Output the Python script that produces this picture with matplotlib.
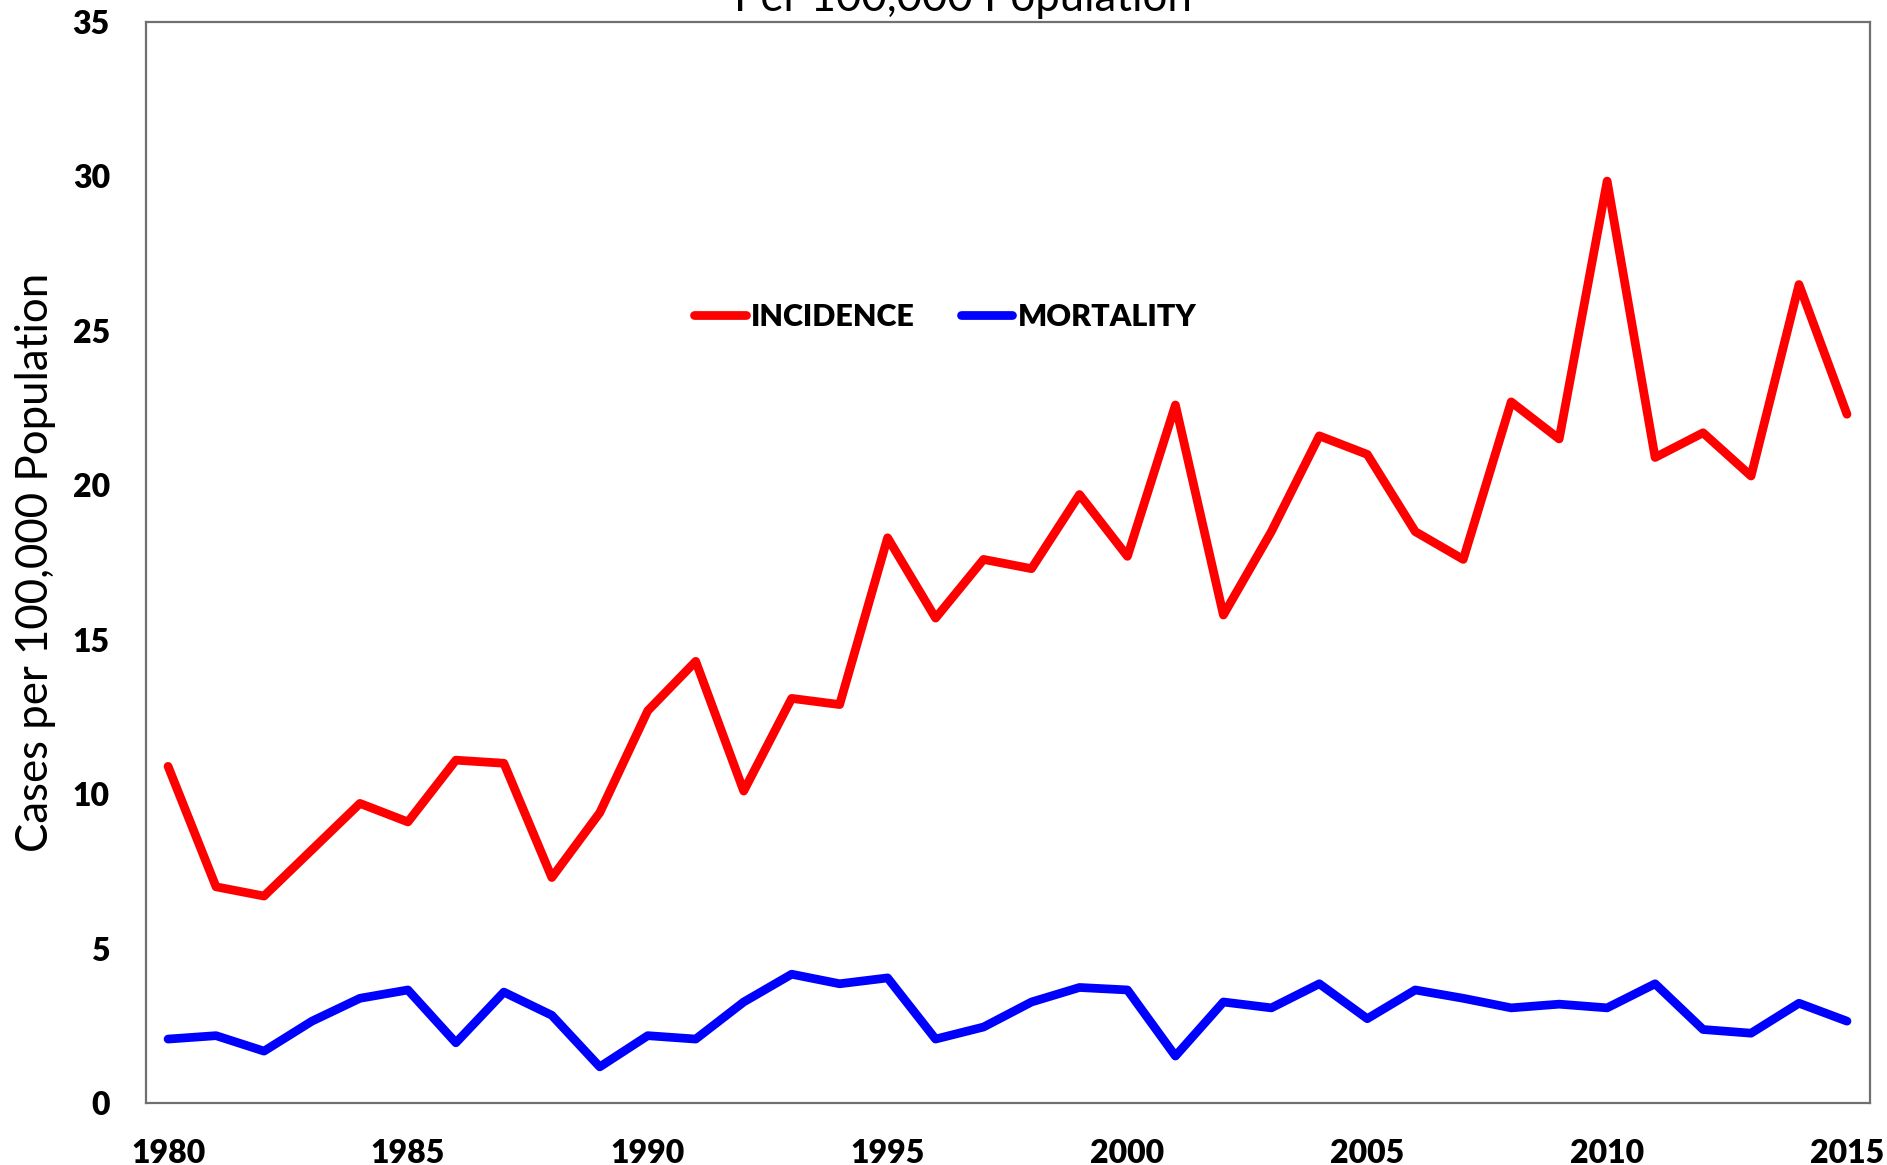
import matplotlib
matplotlib.use("Agg")
import matplotlib.pyplot as plt

years = list(range(1980, 2016))
incidence = [10.9, 7.0, 6.7, 8.2, 9.7, 9.1, 11.1, 11.0, 7.3, 9.4,
             12.7, 14.3, 10.1, 13.1, 12.9, 18.3, 15.7, 17.6, 17.3, 19.7,
             17.7, 22.6, 15.8, 18.5, 21.6, 21.0, 18.5, 17.6, 22.7, 21.5,
             29.85, 20.9, 21.7, 20.3, 26.5, 22.3]
mortality = [2.07, 2.18, 1.68, 2.65, 3.39, 3.66, 1.95, 3.59, 2.84, 1.17,
             2.18, 2.07, 3.27, 4.17, 3.86, 4.05, 2.07, 2.46, 3.27, 3.74,
             3.66, 1.52, 3.27, 3.08, 3.86, 2.73, 3.66, 3.39, 3.08, 3.2,
             3.08, 3.86, 2.38, 2.26, 3.23, 2.65]
xticks = [1980, 1985, 1990, 1995, 2000, 2005, 2010, 2015]
yticks = [0, 5, 10, 15, 20, 25, 30, 35]

plt.rcParams['font.family'] = ['Lato', 'DejaVu Sans']

fig = plt.figure(figsize=(18.87, 11.65), dpi=100)
ax = fig.add_axes([146/1887, 1 - 1103/1165, (1870-146)/1887, (1103-22)/1165])

ax.plot(years, incidence, color='#ff0000', lw=6.3, label='INCIDENCE',
        solid_joinstyle='round', solid_capstyle='round')
ax.plot(years, mortality, color='#0000ff', lw=6.3, label='MORTALITY',
        solid_joinstyle='round', solid_capstyle='round')

ax.set_xlim(1979.54, 2015.48)
ax.set_ylim(0, 35)
ax.set_xticks(xticks)
ax.set_yticks(yticks)
ax.tick_params(length=0, labelsize=23)
ax.tick_params(axis='x', pad=26)
ax.tick_params(axis='y', pad=26)
for lab in ax.get_xticklabels() + ax.get_yticklabels():
    lab.set_fontweight(800)

for s in ax.spines.values():
    s.set_color('#707070')
    s.set_linewidth(1.6)

ax.set_ylabel('Cases per 100,000 Population', fontsize=31.5, labelpad=12)

leg = ax.legend(loc='center', bbox_to_anchor=(0.4635, 0.727), ncol=2,
                frameon=False, handlelength=1.7, handletextpad=0.16,
                columnspacing=1.5, prop={'size': 22, 'weight': 800})

fig.text(963/1887, 1 - 11/1165, 'Per 100,000 Population', fontsize=31.5,
         ha='center', va='baseline')

fig.savefig('out.png', dpi=100)
